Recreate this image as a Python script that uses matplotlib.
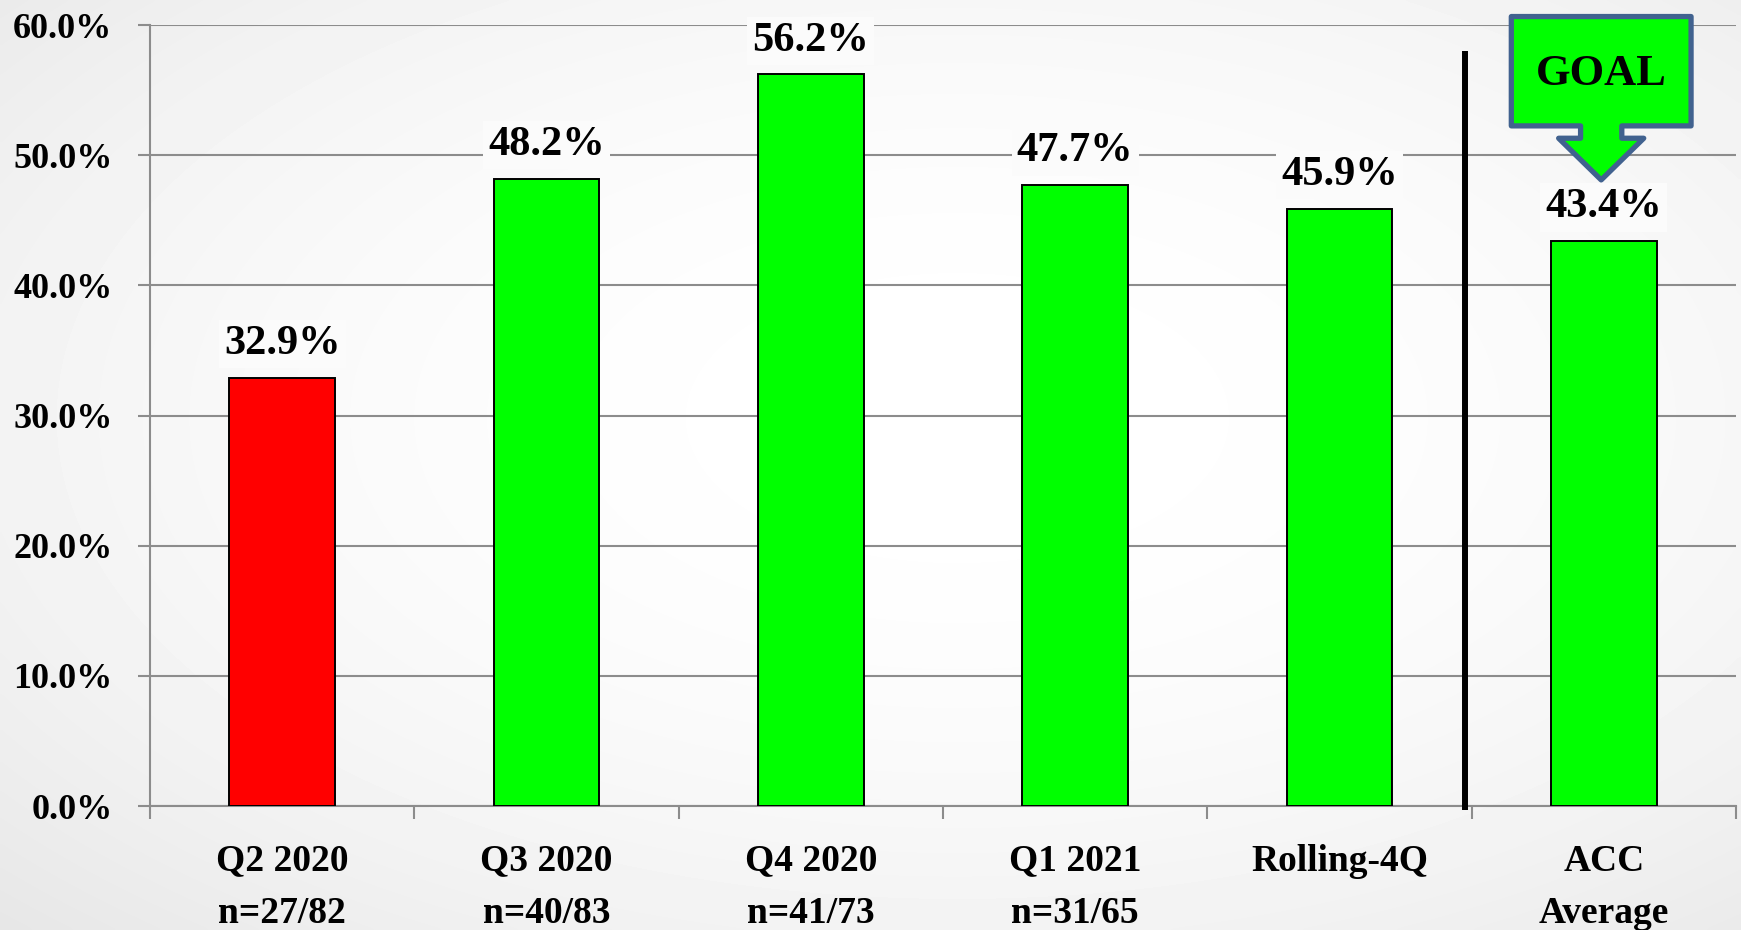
import numpy as np
import matplotlib
matplotlib.use("Agg")
import matplotlib.pyplot as plt
from matplotlib.patches import Polygon
from matplotlib.ticker import FixedLocator

# --- data -------------------------------------------------------------
categories = ["Q2 2020", "Q3 2020", "Q4 2020", "Q1 2021", "Rolling-4Q", "ACC"]
sublabels = ["n=27/82", "n=40/83", "n=41/73", "n=31/65", "", "Average"]
rates = [32.9, 48.2, 56.2, 47.7, 45.9, 43.4]
bar_colors = ["#FF0000", "#00FF00", "#00FF00", "#00FF00", "#00FF00", "#00FF00"]
y_ticks = [0, 10, 20, 30, 40, 50, 60]
goal_text = "GOAL"

FONT = "Liberation Serif"
GRID = "#8C8C8C"

fig = plt.figure(figsize=(17.41, 9.30), dpi=100)

# soft radial background
bg = fig.add_axes([0, 0, 1, 1], zorder=-10)
yy, xx = np.mgrid[0:1:300j, 0:1:560j]
r2 = ((xx - 0.55) / 0.75) ** 2 + ((yy - 0.45) / 0.75) ** 2
shade = np.clip(1.0 - 0.09 * r2, 0.90, 1.0)
bg.imshow(shade, cmap="gray", vmin=0, vmax=1, aspect="auto",
          extent=[0, 1, 0, 1], interpolation="bicubic")
bg.set_axis_off()

ax = fig.add_axes([150 / 1741, 1 - 806 / 930, (1736 - 150) / 1741, (806 - 25) / 930])
ax.set_facecolor("none")

x = np.arange(len(categories))
ax.bar(x, rates, width=0.40, color=bar_colors, edgecolor="black",
       linewidth=1.4, zorder=3)

ax.set_xlim(-0.5, len(categories) - 0.5)
ax.set_ylim(0, 60)

# gridlines & axes
ax.set_yticks(y_ticks)
ax.set_yticklabels([f"{v:.1f}%" for v in y_ticks])
ax.yaxis.grid(True, color=GRID, linewidth=1.5, zorder=0)
ax.set_axisbelow(True)
for side in ("top", "right"):
    ax.spines[side].set_visible(False)
for side in ("left", "bottom"):
    ax.spines[side].set_color(GRID)
    ax.spines[side].set_linewidth(1.5)

ax.xaxis.set_major_locator(FixedLocator(np.arange(-0.5, len(categories), 1.0)))
ax.xaxis.set_minor_locator(FixedLocator(x))
ax.set_xticklabels([])
ax.set_xticklabels(
    [c if not s else f"{c}\n{s}" for c, s in zip(categories, sublabels)],
    minor=True)
ax.tick_params(axis="x", which="major", length=9, width=1.5, color=GRID)
ax.tick_params(axis="x", which="minor", length=0, pad=27)
ax.tick_params(axis="y", length=9, width=1.5, color=GRID, pad=18)

for lbl in ax.get_xticklabels(minor=True):
    lbl.set_fontfamily(FONT)
    lbl.set_fontweight("bold")
    lbl.set_fontsize(27)
    lbl.set_linespacing(1.66)
    lbl.set_verticalalignment("top")
for lbl in ax.get_yticklabels():
    lbl.set_fontfamily(FONT)
    lbl.set_fontweight("bold")
    lbl.set_fontsize(26)

# value labels
for xi, v in zip(x, rates):
    ax.annotate(f"{v:.1f}%", xy=(xi, v), xytext=(0, 17),
                textcoords="offset points", ha="center", va="baseline",
                fontsize=30.5, fontweight="bold", fontfamily=FONT, zorder=4,
                bbox=dict(boxstyle="square,pad=0.12", facecolor="#FBFBFB",
                          edgecolor="none"))

# divider between quarterly results and the benchmark
ax.plot([4.475, 4.475], [-0.3, 58.0], color="black", linewidth=4.3,
        solid_capstyle="butt", clip_on=False, zorder=5)

# goal callout above the benchmark bar
cx = 4.99
bw, sw, hw = 0.34, 0.078, 0.161
top, box_bot, shaft_bot, tip = 60.65, 52.25, 51.3, 48.1
pts = [(cx - bw, top), (cx + bw, top), (cx + bw, box_bot), (cx + sw, box_bot),
       (cx + sw, shaft_bot), (cx + hw, shaft_bot), (cx, tip),
       (cx - hw, shaft_bot), (cx - sw, shaft_bot), (cx - sw, box_bot),
       (cx - bw, box_bot)]
ax.add_patch(Polygon(pts, closed=True, facecolor="#00FF00",
                     edgecolor="#41628F", linewidth=3.8, joinstyle="round",
                     clip_on=False, zorder=6))
ax.text(cx, 56.2, goal_text, ha="center", va="center", fontsize=32,
        fontweight="bold", fontfamily=FONT, zorder=7)

fig.savefig("out.png", dpi=100)
